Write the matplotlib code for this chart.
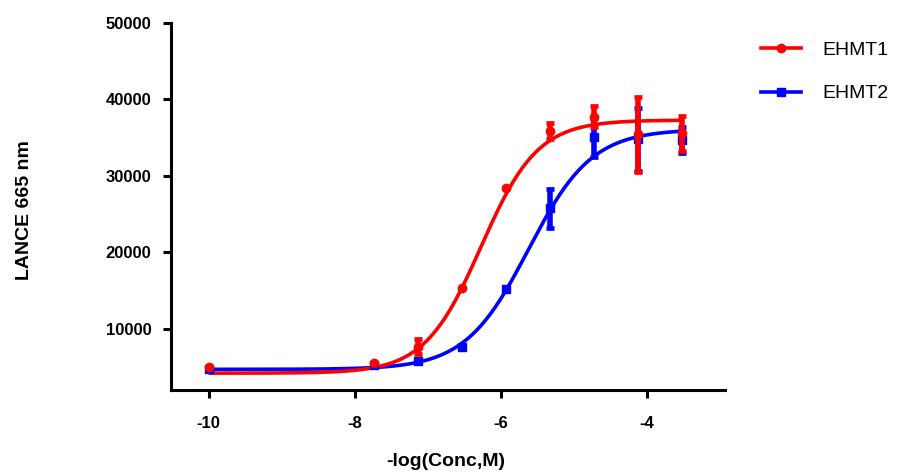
import numpy as np
import matplotlib
matplotlib.use("Agg")
import matplotlib.pyplot as plt
from matplotlib.lines import Line2D

# ---- data ----
log_conc = [-10.0, -7.737, -7.135, -6.533, -5.931, -5.329, -4.727, -4.125, -3.523]
ehmt1_mean = [5070, 5520, 7670, 15400, 28390, 35840, 37770, 35460, 35550]
ehmt1_sd = [0, 0, 980, 0, 0, 1050, 1370, 4900, 2290]
ehmt2_mean = [4800, 5300, 5730, 7610, 15250, 25770, 35070, 34800, 34700]
ehmt2_sd = [0, 0, 0, 0, 0, 2530, 2550, 4100, 1740]

# four-parameter logistic fit parameters (bottom, top, logEC50, hill)
ehmt1_fit = [4200, 37300, -6.27, 1.12]
ehmt2_fit = [4700, 36100, -5.62, 1.0]

series_names = ["EHMT1", "EHMT2"]
x_ticks = [-10, -8, -6, -4]
y_ticks = [10000, 20000, 30000, 40000, 50000]

RED = "#ff0000"
BLUE = "#0000ff"

plt.rcParams['font.family'] = ['Liberation Sans', 'DejaVu Sans']


def four_pl(x, p):
    bottom, top, logec50, hill = p
    return bottom + (top - bottom) / (1 + 10 ** ((logec50 - x) * hill))


fig = plt.figure(figsize=(9.18, 4.74), dpi=100)
W, H = 918, 474
left, right, top_px, bottom_px = 170.7, 725, 23, 390
ax = fig.add_axes([left / W, 1 - bottom_px / H, (right - left) / W, (bottom_px - top_px) / H])

x = np.array(log_conc)
xc = np.linspace(min(log_conc), max(log_conc), 400)

specs = [
    (ehmt2_mean, ehmt2_sd, ehmt2_fit, BLUE, 's', 6.2),
    (ehmt1_mean, ehmt1_sd, ehmt1_fit, RED, 'o', 6.0),
]
for mean, sd, fit, col, mk, ms in specs:
    m = np.array(mean, float)
    s = np.array(sd, float)
    ax.plot(xc, four_pl(xc, fit), color=col, lw=2.6, zorder=3, solid_capstyle='butt')
    ax.plot(x, m, linestyle='none', marker=mk, ms=ms, color=col, zorder=4)
    sel = s > 0
    ax.errorbar(x[sel], m[sel], yerr=s[sel], fmt='none', ecolor=col,
                elinewidth=4.0, capsize=3.2, capthick=3.4, zorder=4)

ax.set_xlim(-10.52, -2.93)
ax.set_ylim(2000, 50000)
ax.set_xticks(x_ticks)
ax.set_xticklabels([str(t) for t in x_ticks])
ax.set_yticks(y_ticks)
ax.set_yticklabels([str(t) for t in y_ticks])

for sp in ['top', 'right']:
    ax.spines[sp].set_visible(False)
for sp in ['left', 'bottom']:
    ax.spines[sp].set_linewidth(2.2)
    ax.spines[sp].set_capstyle('projecting')

ax.tick_params(axis='both', length=6, width=2.2, labelsize=12)
ax.tick_params(axis='x', pad=13)
ax.tick_params(axis='y', pad=8)
for lab in ax.get_xticklabels() + ax.get_yticklabels():
    lab.set_fontweight('bold')

ax.set_xlabel("-log(Conc,M)", fontsize=14, fontweight='bold')
ax.set_ylabel("LANCE 665 nm", fontsize=14, fontweight='bold')
ax.xaxis.set_label_coords(0.497, -0.172)
ax.yaxis.set_label_coords(-0.248, 0.49)

handles = [
    Line2D([], [], color=RED, lw=2.6, marker='o', ms=6.0),
    Line2D([], [], color=BLUE, lw=2.6, marker='s', ms=6.2),
]
fig.legend(handles, series_names, loc='upper left',
           bbox_to_anchor=(760.7 / W, 1 - 41 / H), frameon=False,
           fontsize=14, handlelength=2.05, handletextpad=1.1,
           labelspacing=1.35, borderpad=0, borderaxespad=0)

fig.savefig("out.png", dpi=100)
